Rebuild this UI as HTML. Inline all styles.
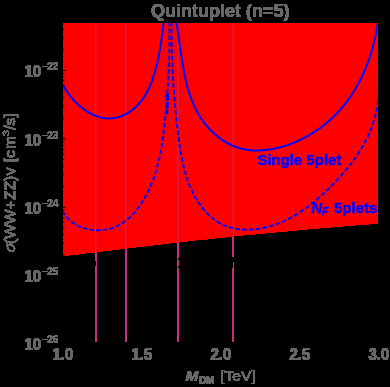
<!DOCTYPE html>
<html><head><meta charset="utf-8"><title>Quintuplet (n=5)</title>
<style>
html,body{margin:0;padding:0;background:#000;}
body{width:390px;height:387px;overflow:hidden;position:relative;}
svg{position:absolute;left:0;top:0;display:block;}
text{font-family:"Liberation Sans",sans-serif;font-weight:bold;}
text.r{font-weight:normal;}
</style></head><body>
<svg width="390" height="387" viewBox="0 0 390 387">
<defs>
<filter id="hard" x="0" y="0" width="390" height="387" filterUnits="userSpaceOnUse" color-interpolation-filters="sRGB">
<feComponentTransfer><feFuncA type="linear" slope="30" intercept="-0.6"/></feComponentTransfer>
</filter>
<clipPath id="redclip"><path d="M63.00,23.10 L377.80,23.10 L377.80,223.48 L372.46,223.86 L367.13,224.24 L361.79,224.63 L356.46,225.04 L351.12,225.44 L345.79,225.86 L340.45,226.28 L335.12,226.71 L329.78,227.15 L324.44,227.59 L319.11,228.04 L313.77,228.50 L308.44,228.96 L303.10,229.44 L297.77,229.91 L292.43,230.40 L287.09,230.89 L281.76,231.38 L276.42,231.88 L271.09,232.39 L265.75,232.91 L260.42,233.43 L255.08,233.95 L249.75,234.48 L244.41,235.02 L239.07,235.56 L233.74,236.11 L228.40,236.66 L223.07,237.22 L217.73,237.79 L212.40,238.35 L207.06,238.93 L201.73,239.51 L196.39,240.09 L191.05,240.68 L185.72,241.27 L180.38,241.87 L175.05,242.47 L169.71,243.07 L164.38,243.68 L159.04,244.30 L153.71,244.91 L148.37,245.54 L143.03,246.16 L137.70,246.79 L132.36,247.42 L127.03,248.06 L121.69,248.70 L116.36,249.34 L111.02,249.99 L105.68,250.64 L100.35,251.29 L95.01,251.95 L89.68,252.61 L84.34,253.27 L79.01,253.94 L73.67,254.60 L68.34,255.27 L63.00,255.94 Z"/></clipPath>
<clipPath id="plotclip"><rect x="63.0" y="23.1" width="314.8" height="318.5"/></clipPath>
</defs>
<rect width="390" height="387" fill="#000"/>
<g filter="url(#hard)">
<g stroke="rgb(201,48,130)" stroke-width="1.6">
<line x1="96.00" x2="96.00" y1="23.10" y2="341.80"/><line x1="126.00" x2="126.00" y1="23.10" y2="341.80"/><line x1="178.00" x2="178.00" y1="23.10" y2="341.80"/><line x1="233.00" x2="233.00" y1="23.10" y2="341.80"/>
</g>
</g>
<g filter="url(#hard)">
<path d="M63.00,23.10 L377.80,23.10 L377.80,223.48 L372.46,223.86 L367.13,224.24 L361.79,224.63 L356.46,225.04 L351.12,225.44 L345.79,225.86 L340.45,226.28 L335.12,226.71 L329.78,227.15 L324.44,227.59 L319.11,228.04 L313.77,228.50 L308.44,228.96 L303.10,229.44 L297.77,229.91 L292.43,230.40 L287.09,230.89 L281.76,231.38 L276.42,231.88 L271.09,232.39 L265.75,232.91 L260.42,233.43 L255.08,233.95 L249.75,234.48 L244.41,235.02 L239.07,235.56 L233.74,236.11 L228.40,236.66 L223.07,237.22 L217.73,237.79 L212.40,238.35 L207.06,238.93 L201.73,239.51 L196.39,240.09 L191.05,240.68 L185.72,241.27 L180.38,241.87 L175.05,242.47 L169.71,243.07 L164.38,243.68 L159.04,244.30 L153.71,244.91 L148.37,245.54 L143.03,246.16 L137.70,246.79 L132.36,247.42 L127.03,248.06 L121.69,248.70 L116.36,249.34 L111.02,249.99 L105.68,250.64 L100.35,251.29 L95.01,251.95 L89.68,252.61 L84.34,253.27 L79.01,253.94 L73.67,254.60 L68.34,255.27 L63.00,255.94 Z" fill="rgb(255,0,0)"/>
</g>
<g filter="url(#hard)" fill="#686868" stroke="#686868" stroke-width="0.2" stroke-linejoin="round">
<text transform="translate(151.00,16.90) scale(1.000,1.040)" font-size="18" >Quintuplet (n=5)</text><text transform="translate(24.50,76.90) scale(1.000,1.040)" font-size="15" >10</text><rect x="42.3" y="66" width="5.3" height="1" stroke="none"/><text transform="translate(47.30,69.90) scale(1.000,1.040)" font-size="10" stroke="none">22</text><text transform="translate(24.50,145.90) scale(1.000,1.040)" font-size="15" >10</text><rect x="42.3" y="135" width="5.3" height="1" stroke="none"/><text transform="translate(47.30,138.90) scale(1.000,1.040)" font-size="10" stroke="none">23</text><text transform="translate(24.50,213.90) scale(1.000,1.040)" font-size="15" >10</text><rect x="42.3" y="203" width="5.3" height="1" stroke="none"/><text transform="translate(47.30,206.90) scale(1.000,1.040)" font-size="10" stroke="none">24</text><text transform="translate(24.50,281.90) scale(1.000,1.040)" font-size="15" >10</text><rect x="42.3" y="271" width="5.3" height="1" stroke="none"/><text transform="translate(47.30,274.90) scale(1.000,1.040)" font-size="10" stroke="none">25</text><text transform="translate(24.50,349.90) scale(1.000,1.040)" font-size="15" >10</text><rect x="42.3" y="339" width="5.3" height="1" stroke="none"/><text transform="translate(47.30,342.90) scale(1.000,1.040)" font-size="10" stroke="none">26</text><text transform="translate(62.90,359.90) scale(1.000,1.040)" font-size="15" text-anchor="middle">1.0</text><text transform="translate(141.88,359.90) scale(1.000,1.040)" font-size="15" text-anchor="middle">1.5</text><text transform="translate(220.85,359.90) scale(1.000,1.040)" font-size="15" text-anchor="middle">2.0</text><text transform="translate(299.82,359.90) scale(1.000,1.040)" font-size="15" text-anchor="middle">2.5</text><text transform="translate(378.80,359.90) scale(1.000,1.040)" font-size="15" text-anchor="middle">3.0</text><text transform="translate(185.40,380.90) scale(1.030,0.970)" font-size="15" font-style="italic">M</text><text transform="translate(198.90,383.90) scale(1.000,1.000)" font-size="10" >DM</text><text transform="translate(220.20,380.90) scale(1.035,0.960)" font-size="15" class="r" >[TeV]</text><g transform="translate(15.3,252.2) rotate(-90)"><text transform="translate(0.00,0.00) scale(1.035,0.960)" font-size="15" class="r" font-style="italic">σ</text><text transform="translate(8.20,0.00) scale(1.035,0.960)" font-size="15" class="r" >(WW+</text><text transform="translate(52.20,0.00) scale(1.035,0.960)" font-size="15" class="r" >ZZ)</text><text transform="translate(76.90,0.00) scale(1.035,0.960)" font-size="15" class="r" >v</text><text transform="translate(90.00,0.00) scale(1.035,0.960)" font-size="15" class="r" >[c</text><text transform="translate(103.30,0.00) scale(1.035,0.960)" font-size="15" class="r" >m</text><text transform="translate(116.20,-6.00) scale(1.035,0.960)" font-size="10.3" class="r" >3</text><text transform="translate(122.40,0.00) scale(1.035,0.960)" font-size="15" class="r" >/s]</text></g>
</g>
<g clip-path="url(#redclip)">
<g stroke="rgb(180,45,125)" stroke-width="1.0">
<line x1="95.75" x2="95.75" y1="23.10" y2="341.60"/><line x1="125.80" x2="125.80" y1="23.10" y2="341.60"/><line x1="178.00" x2="178.00" y1="23.10" y2="341.60"/><line x1="233.20" x2="233.20" y1="23.10" y2="341.60"/>
</g>
<g fill="none" stroke="rgb(0,0,255)" stroke-width="2.0" stroke-linejoin="round" clip-path="url(#plotclip)">
<path d="M63.17,84.87 L63.79,86.13 L64.46,87.40 L65.18,88.67 L65.93,89.93 L66.72,91.19 L67.55,92.44 L68.42,93.69 L69.32,94.92 L70.26,96.14 L71.24,97.35 L72.24,98.54 L73.28,99.72 L74.34,100.88 L75.44,102.01 L76.56,103.13 L77.71,104.22 L78.89,105.28 L80.08,106.32 L81.30,107.32 L82.55,108.30 L83.81,109.24 L85.09,110.14 L86.39,111.01 L87.71,111.84 L89.04,112.63 L90.38,113.38 L91.74,114.08 L93.11,114.74 L94.49,115.34 L95.88,115.90 L97.27,116.41 L98.68,116.87 L100.09,117.27 L101.50,117.61 L102.92,117.90 L104.34,118.12 L105.75,118.28 L107.17,118.38 L108.59,118.42 L110.00,118.39 L111.41,118.31 L112.81,118.17 L114.21,117.97 L115.60,117.71 L116.98,117.40 L118.35,117.03 L119.70,116.61 L121.05,116.14 L122.38,115.62 L123.69,115.05 L124.99,114.43 L126.27,113.77 L127.53,113.06 L128.77,112.31 L129.99,111.52 L131.19,110.68 L132.36,109.80 L133.51,108.89 L134.63,107.93 L135.72,106.94 L136.79,105.92 L137.82,104.86 L138.83,103.77 L139.80,102.64 L140.74,101.49 L141.66,100.31 L142.54,99.10 L143.40,97.86 L144.23,96.60 L145.04,95.31 L145.81,94.01 L146.57,92.68 L147.29,91.33 L147.99,89.96 L148.67,88.58 L149.33,87.18 L149.96,85.76 L150.57,84.33 L151.15,82.89 L151.72,81.44 L152.27,79.98 L152.79,78.51 L153.30,77.03 L153.78,75.55 L154.25,74.06 L154.71,72.57 L155.14,71.08 L155.56,69.59 L155.96,68.10 L156.34,66.61 L156.72,65.12 L157.07,63.64 L157.42,62.16 L157.75,60.69 L158.06,59.22 L158.37,57.75 L158.66,56.28 L158.94,54.82 L159.22,53.36 L159.48,51.90 L159.73,50.44 L159.98,48.99 L160.22,47.53 L160.45,46.08 L160.67,44.63 L160.88,43.17 L161.10,41.72 L161.30,40.27 L161.50,38.81 L161.70,37.36 L161.89,35.90 L162.08,34.44 L162.27,32.98 L162.46,31.52 L162.64,30.06 L162.83,28.59 L163.01,27.12 L163.20,25.65 L163.38,24.17 L163.57,22.69 L163.76,21.21 L163.96,19.72 L164.15,18.23 L164.35,16.73 L164.56,15.23 L164.77,13.72 L164.98,12.21 L165.12,11.25"/>
<path d="M174.71,12.76 L174.97,14.10 L175.23,15.45 L175.49,16.81 L175.73,18.18 L175.97,19.56 L176.21,20.95 L176.44,22.35 L176.67,23.75 L176.90,25.17 L177.12,26.59 L177.33,28.02 L177.55,29.46 L177.76,30.91 L177.97,32.36 L178.18,33.82 L178.38,35.29 L178.59,36.76 L178.79,38.23 L179.00,39.72 L179.20,41.20 L179.40,42.69 L179.61,44.19 L179.82,45.69 L180.02,47.19 L180.23,48.70 L180.45,50.20 L180.66,51.71 L180.88,53.23 L181.10,54.74 L181.33,56.26 L181.56,57.77 L181.79,59.29 L182.03,60.81 L182.27,62.33 L182.52,63.84 L182.78,65.36 L183.04,66.88 L183.31,68.39 L183.59,69.91 L183.87,71.42 L184.16,72.93 L184.46,74.43 L184.78,75.94 L185.10,77.44 L185.43,78.93 L185.77,80.42 L186.12,81.91 L186.49,83.40 L186.87,84.87 L187.26,86.35 L187.66,87.81 L188.07,89.28 L188.50,90.73 L188.95,92.18 L189.41,93.62 L189.88,95.05 L190.38,96.48 L190.88,97.90 L191.41,99.31 L191.95,100.71 L192.51,102.10 L193.09,103.48 L193.68,104.86 L194.30,106.22 L194.93,107.57 L195.59,108.92 L196.26,110.25 L196.96,111.57 L197.68,112.87 L198.42,114.17 L199.18,115.45 L199.97,116.72 L200.78,117.98 L201.61,119.23 L202.47,120.46 L203.35,121.67 L204.26,122.87 L205.19,124.06 L206.14,125.23 L207.11,126.38 L208.11,127.51 L209.13,128.63 L210.16,129.72 L211.22,130.80 L212.30,131.85 L213.40,132.89 L214.51,133.90 L215.65,134.88 L216.80,135.85 L217.97,136.79 L219.16,137.70 L220.36,138.59 L221.58,139.45 L222.82,140.29 L224.07,141.09 L225.33,141.87 L226.61,142.62 L227.90,143.33 L229.20,144.02 L230.52,144.67 L231.85,145.30 L233.19,145.88 L234.54,146.44 L235.90,146.96 L237.27,147.44 L238.65,147.89 L240.04,148.30 L241.44,148.68 L242.84,149.01 L244.26,149.31 L245.68,149.58 L247.10,149.81 L248.54,150.00 L249.97,150.16 L251.42,150.29 L252.87,150.39 L254.32,150.45 L255.77,150.49 L257.23,150.50 L258.69,150.47 L260.15,150.42 L261.62,150.34 L263.08,150.23 L264.55,150.10 L266.01,149.94 L267.48,149.76 L268.94,149.56 L270.40,149.33 L271.87,149.08 L273.32,148.80 L274.78,148.51 L276.23,148.20 L277.68,147.86 L279.13,147.50 L280.57,147.13 L282.01,146.73 L283.44,146.31 L284.87,145.87 L286.30,145.42 L287.72,144.94 L289.14,144.44 L290.55,143.93 L291.95,143.39 L293.35,142.84 L294.74,142.27 L296.13,141.68 L297.51,141.07 L298.89,140.44 L300.26,139.80 L301.62,139.14 L302.97,138.46 L304.32,137.76 L305.65,137.05 L306.98,136.32 L308.31,135.57 L309.62,134.81 L310.93,134.03 L312.22,133.23 L313.51,132.42 L314.79,131.59 L316.06,130.75 L317.31,129.89 L318.56,129.02 L319.80,128.13 L321.03,127.23 L322.25,126.31 L323.45,125.38 L324.65,124.44 L325.83,123.48 L327.00,122.50 L328.16,121.52 L329.31,120.52 L330.45,119.51 L331.57,118.48 L332.68,117.44 L333.78,116.39 L334.86,115.33 L335.93,114.25 L336.99,113.16 L338.03,112.06 L339.06,110.95 L340.08,109.83 L341.08,108.70 L342.07,107.55 L343.04,106.40 L343.99,105.23 L344.94,104.06 L345.86,102.87 L346.78,101.67 L347.68,100.47 L348.56,99.25 L349.44,98.03 L350.29,96.79 L351.14,95.55 L351.97,94.30 L352.79,93.04 L353.59,91.77 L354.38,90.49 L355.16,89.20 L355.92,87.91 L356.67,86.61 L357.40,85.30 L358.13,83.99 L358.84,82.66 L359.54,81.33 L360.22,80.00 L360.89,78.65 L361.55,77.30 L362.20,75.95 L362.83,74.59 L363.45,73.22 L364.06,71.85 L364.65,70.47 L365.24,69.09 L365.81,67.70 L366.37,66.31 L366.91,64.91 L367.45,63.51 L367.97,62.10 L368.48,60.69 L368.98,59.28 L369.47,57.86 L369.95,56.44 L370.41,55.02 L370.86,53.59 L371.30,52.16 L371.73,50.73 L372.15,49.30 L372.56,47.86 L372.96,46.42 L373.34,44.98 L373.72,43.54 L374.08,42.10 L374.43,40.65 L374.77,39.21 L375.10,37.76 L375.42,36.31 L375.73,34.87 L376.03,33.42 L376.32,31.97 L376.60,30.52 L376.87,29.08 L377.13,27.63 L377.37,26.18 L377.61,24.74 L377.84,23.29 L378.06,21.85 L378.27,20.41 L378.47,18.97 L378.66,17.53 L378.83,16.10 L379.00,14.67 L379.03,14.46"/>
<g stroke-width="2.0">
<path d="M63.08,212.07 L63.97,213.46 L64.92,214.80 L65.91,216.08 L66.95,217.31 L68.03,218.47 L69.16,219.58 L70.32,220.64 L71.52,221.63 L72.76,222.57 L74.03,223.46 L75.33,224.29 L76.67,225.06 L78.03,225.78 L79.41,226.45 L80.82,227.06 L82.25,227.62 L83.70,228.12 L85.16,228.58 L86.64,228.98 L88.13,229.33 L89.63,229.62 L91.14,229.87 L92.66,230.06 L94.18,230.21 L95.71,230.30 L97.23,230.35 L98.75,230.34 L100.26,230.29 L101.77,230.19 L103.28,230.03 L104.77,229.83 L106.24,229.59 L107.71,229.29 L109.15,228.95 L110.58,228.56 L111.98,228.13 L113.37,227.65 L114.73,227.13 L116.06,226.56 L117.38,225.95 L118.67,225.30 L119.94,224.60 L121.19,223.87 L122.41,223.11 L123.62,222.30 L124.80,221.46 L125.96,220.59 L127.10,219.68 L128.21,218.74 L129.31,217.77 L130.38,216.77 L131.44,215.75 L132.47,214.69 L133.48,213.61 L134.47,212.51 L135.45,211.38 L136.40,210.22 L137.33,209.05 L138.24,207.86 L139.13,206.65 L140.00,205.42 L140.85,204.17 L141.68,202.91 L142.49,201.63 L143.29,200.34 L144.06,199.04 L144.82,197.72 L145.55,196.40 L146.27,195.07 L146.97,193.73 L147.65,192.38 L148.31,191.03 L148.96,189.68 L149.59,188.32 L150.20,186.95 L150.79,185.58 L151.37,184.20 L151.93,182.82 L152.47,181.44 L153.00,180.05 L153.51,178.65 L154.01,177.25 L154.49,175.85 L154.96,174.44 L155.41,173.03 L155.85,171.62 L156.28,170.20 L156.69,168.77 L157.10,167.35 L157.48,165.91 L157.86,164.48 L158.22,163.04 L158.58,161.60 L158.92,160.15 L159.25,158.70 L159.57,157.25 L159.88,155.79 L160.18,154.33 L160.47,152.87 L160.75,151.41 L161.02,149.94 L161.28,148.47 L161.54,146.99 L161.78,145.52 L162.02,144.04 L162.25,142.55 L162.47,141.07 L162.69,139.58 L162.90,138.09 L163.10,136.60 L163.30,135.11 L163.50,133.61 L163.68,132.11 L163.86,130.61 L164.04,129.11 L164.22,127.61 L164.38,126.10 L164.55,124.59 L164.71,123.09 L164.87,121.57 L165.03,120.06 L165.18,118.55 L165.33,117.04 L165.48,115.52 L165.63,114.00 L165.77,112.49 L165.91,110.97 L166.05,109.45 L166.19,107.93 L166.32,106.41 L166.45,104.88 L166.58,103.36 L166.71,101.84 L166.83,100.32 L166.95,98.79 L167.07,97.27 L167.19,95.74 L167.30,94.22 L167.41,92.70 L167.52,91.17 L167.62,89.65 L167.73,88.12 L167.83,86.60 L167.92,85.08 L168.02,83.55 L168.11,82.03 L168.19,80.51 L168.28,78.99 L168.36,77.47 L168.44,75.95 L168.52,74.43 L168.59,72.91 L168.66,71.39 L168.73,69.88 L168.80,68.36 L168.86,66.85 L168.92,65.34 L168.97,63.83 L169.03,62.32 L169.08,60.81 L169.12,59.31 L169.17,57.80 L169.21,56.30 L169.25,54.80 L169.28,53.30 L169.31,51.81 L169.34,50.31 L169.36,48.82 L169.39,47.33 L169.40,45.84 L169.42,44.36 L169.43,42.88 L169.44,41.40 L169.45,39.92 L169.45,38.45 L169.45,36.97 L169.44,35.51 L169.43,34.04 L169.42,32.58 L169.41,31.12 L169.39,29.66 L169.37,28.21 L169.34,26.76 L169.32,25.31 L169.28,23.87 L169.25,22.43 L169.21,21.00 L169.17,19.57 L169.12,18.14 L169.07,16.71 L169.02,15.29 L168.96,13.88 L168.90,12.47 L168.90,12.44" stroke-dasharray="4.67 2.09" stroke-dashoffset="1.25"/>
<path d="M171.66,12.53 L171.63,13.94 L171.61,15.36 L171.59,16.78 L171.57,18.20 L171.56,19.63 L171.55,21.06 L171.54,22.50 L171.53,23.94 L171.53,25.38 L171.53,26.82 L171.53,28.27 L171.53,29.73 L171.54,31.18 L171.54,32.64 L171.56,34.10 L171.57,35.57 L171.59,37.04 L171.61,38.51 L171.63,39.98 L171.65,41.46 L171.68,42.94 L171.71,44.42 L171.74,45.90 L171.77,47.39 L171.81,48.88 L171.85,50.37 L171.89,51.86 L171.94,53.36 L171.99,54.85 L172.04,56.35 L172.09,57.85 L172.14,59.36 L172.20,60.86 L172.26,62.37 L172.32,63.88 L172.39,65.38 L172.46,66.90 L172.53,68.41 L172.60,69.92 L172.68,71.44 L172.76,72.95 L172.84,74.47 L172.92,75.99 L173.01,77.50 L173.10,79.02 L173.19,80.54 L173.28,82.06 L173.38,83.59 L173.48,85.11 L173.58,86.63 L173.68,88.15 L173.79,89.68 L173.90,91.20 L174.01,92.72 L174.12,94.25 L174.24,95.77 L174.36,97.29 L174.48,98.82 L174.61,100.34 L174.74,101.86 L174.87,103.39 L175.00,104.91 L175.13,106.43 L175.27,107.95 L175.41,109.47 L175.55,110.99 L175.70,112.51 L175.85,114.03 L176.00,115.54 L176.15,117.06 L176.31,118.58 L176.47,120.09 L176.63,121.60 L176.79,123.11 L176.96,124.62 L177.13,126.13 L177.30,127.64 L177.47,129.14 L177.65,130.65 L177.83,132.15 L178.01,133.65 L178.20,135.15 L178.39,136.64 L178.58,138.13 L178.78,139.63 L178.98,141.12 L179.19,142.60 L179.41,144.09 L179.62,145.57 L179.85,147.05 L180.08,148.53 L180.32,150.00 L180.56,151.47 L180.82,152.94 L181.08,154.41 L181.34,155.87 L181.62,157.33 L181.90,158.79 L182.20,160.24 L182.50,161.69 L182.81,163.14 L183.13,164.58 L183.46,166.02 L183.81,167.46 L184.16,168.89 L184.53,170.32 L184.91,171.75 L185.31,173.17 L185.72,174.59 L186.15,176.00 L186.59,177.41 L187.05,178.82 L187.53,180.22 L188.02,181.62 L188.54,183.01 L189.07,184.40 L189.63,185.78 L190.21,187.16 L190.80,188.53 L191.42,189.90 L192.07,191.27 L192.73,192.63 L193.42,193.98 L194.13,195.32 L194.86,196.65 L195.62,197.97 L196.39,199.27 L197.19,200.57 L198.01,201.85 L198.85,203.11 L199.72,204.36 L200.60,205.59 L201.51,206.80 L202.44,207.99 L203.39,209.16 L204.36,210.30 L205.35,211.43 L206.36,212.53 L207.39,213.60 L208.45,214.65 L209.52,215.67 L210.62,216.66 L211.73,217.62 L212.87,218.55 L214.03,219.45 L215.21,220.31 L216.40,221.14 L217.62,221.93 L218.86,222.69 L220.12,223.41 L221.39,224.09 L222.69,224.73 L224.01,225.33 L225.35,225.89 L226.70,226.41 L228.07,226.88 L229.46,227.32 L230.87,227.72 L232.28,228.07 L233.72,228.39 L235.16,228.68 L236.62,228.92 L238.08,229.13 L239.55,229.31 L241.04,229.45 L242.53,229.55 L244.02,229.62 L245.52,229.66 L247.02,229.67 L248.53,229.65 L250.04,229.60 L251.55,229.51 L253.06,229.40 L254.56,229.26 L256.07,229.09 L257.57,228.89 L259.06,228.67 L260.55,228.42 L262.03,228.15 L263.51,227.85 L264.98,227.53 L266.44,227.19 L267.89,226.82 L269.33,226.43 L270.76,226.01 L272.19,225.58 L273.61,225.12 L275.02,224.64 L276.43,224.14 L277.82,223.62 L279.21,223.07 L280.59,222.51 L281.96,221.93 L283.33,221.33 L284.68,220.71 L286.03,220.07 L287.38,219.42 L288.71,218.74 L290.04,218.05 L291.35,217.34 L292.66,216.61 L293.97,215.87 L295.26,215.11 L296.55,214.34 L297.83,213.55 L299.11,212.74 L300.37,211.92 L301.63,211.09 L302.88,210.24 L304.12,209.38 L305.36,208.50 L306.59,207.62 L307.81,206.71 L309.02,205.80 L310.23,204.88 L311.43,203.94 L312.62,202.99 L313.80,202.04 L314.98,201.07 L316.15,200.09 L317.31,199.10 L318.47,198.10 L319.62,197.10 L320.76,196.08 L321.89,195.06 L323.02,194.03 L324.14,192.99 L325.26,191.94 L326.36,190.89 L327.46,189.83 L328.55,188.76 L329.64,187.69 L330.72,186.61 L331.79,185.53 L332.85,184.44 L333.91,183.35 L334.96,182.26 L336.00,181.16 L337.04,180.05 L338.07,178.94 L339.09,177.83 L340.10,176.71 L341.10,175.59 L342.10,174.46 L343.09,173.33 L344.07,172.19 L345.03,171.05 L345.99,169.90 L346.95,168.75 L347.89,167.59 L348.82,166.42 L349.74,165.25 L350.65,164.08 L351.55,162.90 L352.44,161.71 L353.32,160.52 L354.19,159.32 L355.05,158.11 L355.89,156.90 L356.73,155.69 L357.55,154.46 L358.36,153.23 L359.16,151.99 L359.94,150.75 L360.72,149.50 L361.48,148.24 L362.22,146.98 L362.96,145.71 L363.68,144.43 L364.38,143.14 L365.08,141.85 L365.76,140.55 L366.42,139.24 L367.07,137.93 L367.71,136.61 L368.33,135.28 L368.93,133.94 L369.52,132.59 L370.10,131.24 L370.65,129.87 L371.20,128.50 L371.72,127.12 L372.24,125.74 L372.73,124.34 L373.21,122.94 L373.67,121.52 L374.11,120.10 L374.54,118.67 L374.94,117.23 L375.34,115.79 L375.71,114.33 L376.06,112.86 L376.40,111.39 L376.72,109.90 L377.02,108.41 L377.30,106.90 L377.56,105.39 L377.80,103.86 L378.02,102.33 L378.22,100.79 L378.41,99.23 L378.57,97.67 L378.71,96.10 L378.83,94.51 L378.93,92.92 L379.00,91.58" stroke-dasharray="4.7 2.1" stroke-dashoffset="-2.5"/>
</g>
<path d="M167.5,93.8 L167.2,100.5 M167.2,102 L166.9,108.3 M166.8,109.3 L166.3,114.5" stroke-width="3.4"/>
</g>
<g stroke="#000" stroke-width="0.9"><line x1="62.50" x2="64.40" y1="323.41" y2="323.41"/><line x1="62.50" x2="64.40" y1="311.36" y2="311.36"/><line x1="62.50" x2="64.40" y1="302.82" y2="302.82"/><line x1="62.50" x2="64.40" y1="296.19" y2="296.19"/><line x1="62.50" x2="64.40" y1="290.77" y2="290.77"/><line x1="62.50" x2="64.40" y1="286.20" y2="286.20"/><line x1="62.50" x2="64.40" y1="282.23" y2="282.23"/><line x1="62.50" x2="64.40" y1="278.73" y2="278.73"/><line x1="62.50" x2="65.80" y1="275.60" y2="275.60"/><line x1="62.50" x2="64.40" y1="255.01" y2="255.01"/><line x1="62.50" x2="64.40" y1="242.96" y2="242.96"/><line x1="62.50" x2="64.40" y1="234.42" y2="234.42"/><line x1="62.50" x2="64.40" y1="227.79" y2="227.79"/><line x1="62.50" x2="64.40" y1="222.37" y2="222.37"/><line x1="62.50" x2="64.40" y1="217.80" y2="217.80"/><line x1="62.50" x2="64.40" y1="213.83" y2="213.83"/><line x1="62.50" x2="64.40" y1="210.33" y2="210.33"/><line x1="62.50" x2="65.80" y1="207.20" y2="207.20"/><line x1="62.50" x2="64.40" y1="186.61" y2="186.61"/><line x1="62.50" x2="64.40" y1="174.56" y2="174.56"/><line x1="62.50" x2="64.40" y1="166.02" y2="166.02"/><line x1="62.50" x2="64.40" y1="159.39" y2="159.39"/><line x1="62.50" x2="64.40" y1="153.97" y2="153.97"/><line x1="62.50" x2="64.40" y1="149.40" y2="149.40"/><line x1="62.50" x2="64.40" y1="145.43" y2="145.43"/><line x1="62.50" x2="64.40" y1="141.93" y2="141.93"/><line x1="62.50" x2="65.80" y1="138.80" y2="138.80"/><line x1="62.50" x2="64.40" y1="118.21" y2="118.21"/><line x1="62.50" x2="64.40" y1="106.16" y2="106.16"/><line x1="62.50" x2="64.40" y1="97.62" y2="97.62"/><line x1="62.50" x2="64.40" y1="90.99" y2="90.99"/><line x1="62.50" x2="64.40" y1="85.57" y2="85.57"/><line x1="62.50" x2="64.40" y1="81.00" y2="81.00"/><line x1="62.50" x2="64.40" y1="77.03" y2="77.03"/><line x1="62.50" x2="64.40" y1="73.53" y2="73.53"/><line x1="62.50" x2="65.80" y1="70.40" y2="70.40"/><line x1="62.50" x2="64.40" y1="49.81" y2="49.81"/><line x1="62.50" x2="64.40" y1="37.76" y2="37.76"/><line x1="62.50" x2="64.40" y1="29.22" y2="29.22"/></g>
<g fill="rgb(0,0,255)" stroke="rgb(0,0,255)" stroke-width="0.55" stroke-linejoin="round">
<text transform="translate(257.20,165.10) scale(1.000,1.000)" font-size="15" >Single 5plet</text><text transform="translate(311.30,212.60) scale(1.000,1.000)" font-size="15" font-style="italic">N</text><text transform="translate(322.00,215.40) scale(1.000,1.000)" font-size="10.7" font-style="italic">F</text><text transform="translate(334.00,212.60) scale(1.000,1.000)" font-size="15" >5plets</text>
</g>
</g>
<g fill="#000" shape-rendering="crispEdges">
<rect x="95" y="261" width="1" height="4.5"/>
<rect x="178" y="258" width="1" height="2"/>
<rect x="178" y="266" width="1" height="2"/>
<rect x="232" y="256.5" width="2" height="5.5"/>
<rect x="232" y="262" width="1" height="6"/>
</g>
</svg>
</body></html>
